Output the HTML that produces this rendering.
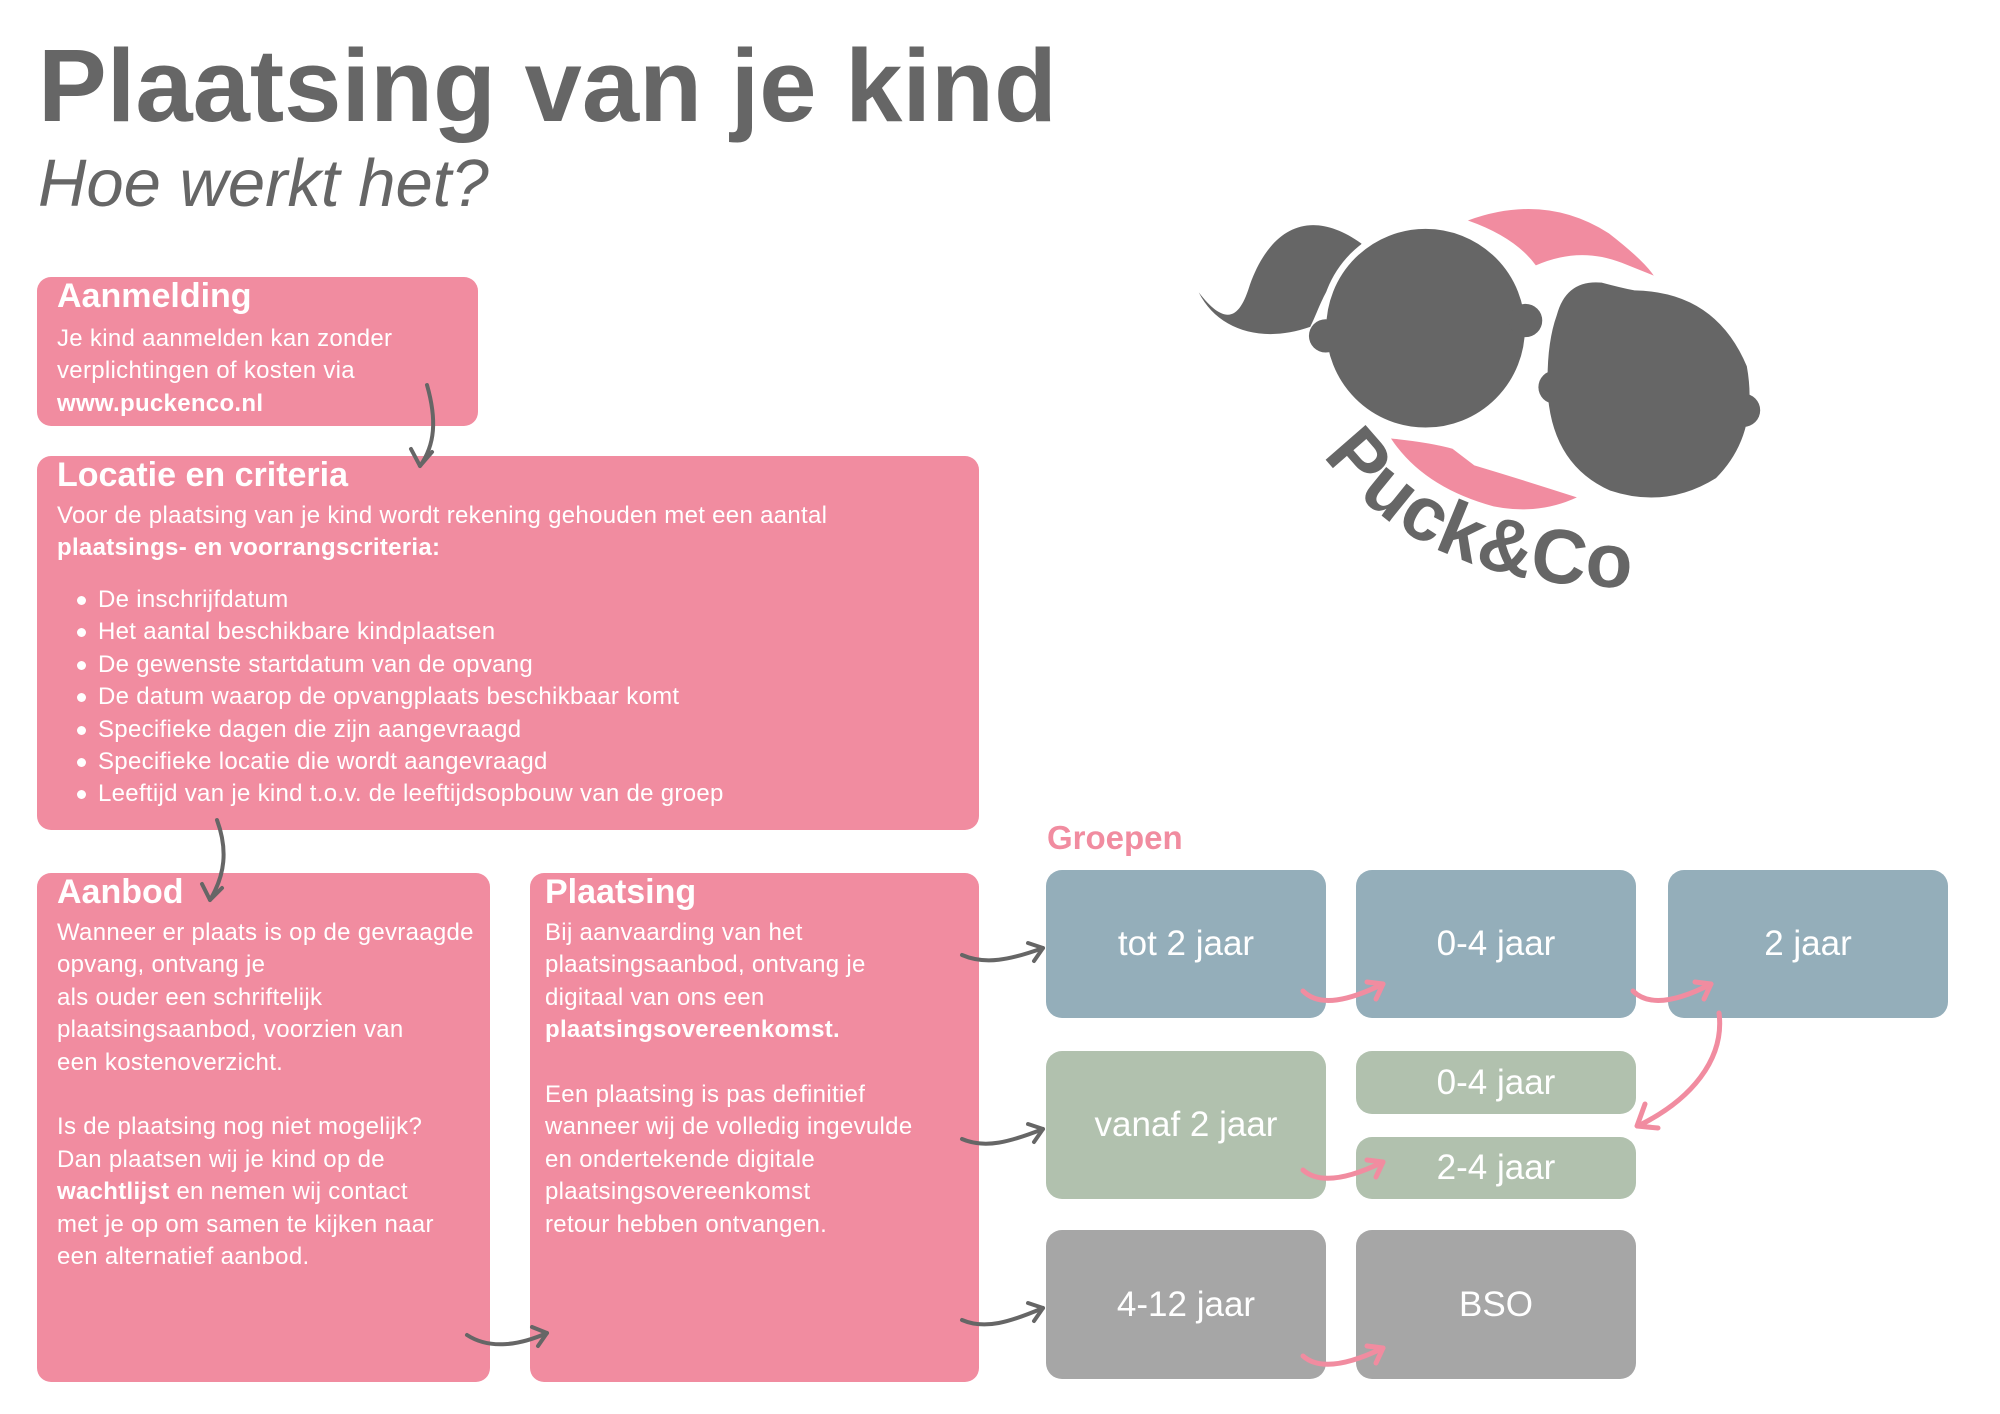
<!DOCTYPE html>
<html><head><meta charset="utf-8"><style>
*{margin:0;padding:0;box-sizing:border-box}
body{width:2000px;height:1414px;background:#fff;position:relative;overflow:hidden;font-family:"Liberation Sans",sans-serif;color:#fff}
.a{position:absolute}
.box{position:absolute;background:#f18ca0;border-radius:14px}
.h{position:absolute;font-weight:bold;font-size:34px;line-height:40px;color:#fff}
.t{position:absolute;font-size:24px;line-height:32.4px;color:#fff;letter-spacing:0.3px;white-space:nowrap}
.g{position:absolute;border-radius:16px;display:flex;align-items:center;justify-content:center;font-size:35px;color:#fff}
.bl{background:#94aeba}.gr{background:#b1c1ae}.gy{background:#a6a6a6}
ul{list-style:none}
li{position:relative;padding-left:0}
li:before{content:"";position:absolute;left:-21px;top:12px;width:9px;height:9px;border-radius:50%;background:#fff}
</style></head><body>
<div class="a" style="left:38px;top:26px;font-size:103px;font-weight:bold;color:#666;line-height:120px;white-space:nowrap">Plaatsing van je kind</div>
<div class="a" style="left:38px;top:144px;font-size:67px;font-style:italic;color:#666;line-height:80px;white-space:nowrap">Hoe werkt het?</div>

<div class="box" style="left:37px;top:277px;width:441px;height:149px"></div>
<div class="h" style="left:57px;top:276px">Aanmelding</div>
<div class="t" style="left:57px;top:323px">Je kind aanmelden kan zonder<br>verplichtingen of kosten via<br><b>www.puckenco.nl</b></div>

<div class="box" style="left:37px;top:456px;width:942px;height:374px"></div>
<div class="h" style="left:57px;top:455px">Locatie en criteria</div>
<div class="t" style="left:57px;top:500px">Voor de plaatsing van je kind wordt rekening gehouden met een aantal<br><b>plaatsings- en voorrangscriteria:</b></div>
<ul class="t" style="left:98px;top:584px">
<li>De inschrijfdatum</li>
<li>Het aantal beschikbare kindplaatsen</li>
<li>De gewenste startdatum van de opvang</li>
<li>De datum waarop de opvangplaats beschikbaar komt</li>
<li>Specifieke dagen die zijn aangevraagd</li>
<li>Specifieke locatie die wordt aangevraagd</li>
<li>Leeftijd van je kind t.o.v. de leeftijdsopbouw van de groep</li>
</ul>

<div class="box" style="left:37px;top:873px;width:453px;height:509px"></div>
<div class="h" style="left:57px;top:872px">Aanbod</div>
<div class="t" style="left:57px;top:917px">Wanneer er plaats is op de gevraagde<br>opvang, ontvang je<br>als ouder een schriftelijk<br>plaatsingsaanbod, voorzien van<br>een kostenoverzicht.<br><br>Is de plaatsing nog niet mogelijk?<br>Dan plaatsen wij je kind op de<br><b>wachtlijst</b> en nemen wij contact<br>met je op om samen te kijken naar<br>een alternatief aanbod.</div>

<div class="box" style="left:530px;top:873px;width:449px;height:509px"></div>
<div class="h" style="left:545px;top:872px">Plaatsing</div>
<div class="t" style="left:545px;top:917px">Bij aanvaarding van het<br>plaatsingsaanbod, ontvang je<br>digitaal van ons een<br><b>plaatsingsovereenkomst.</b><br><br>Een plaatsing is pas definitief<br>wanneer wij de volledig ingevulde<br>en ondertekende digitale<br>plaatsingsovereenkomst<br>retour hebben ontvangen.</div>

<div class="a" style="left:1047px;top:818px;font-size:33px;font-weight:bold;color:#f18ca0;line-height:40px">Groepen</div>
<div class="g bl" style="left:1046px;top:870px;width:280px;height:148px">tot 2 jaar</div>
<div class="g bl" style="left:1356px;top:870px;width:280px;height:148px">0-4 jaar</div>
<div class="g bl" style="left:1668px;top:870px;width:280px;height:148px">2 jaar</div>
<div class="g gr" style="left:1046px;top:1051px;width:280px;height:148px">vanaf 2 jaar</div>
<div class="g gr" style="left:1356px;top:1051px;width:280px;height:63px">0-4 jaar</div>
<div class="g gr" style="left:1356px;top:1137px;width:280px;height:62px">2-4 jaar</div>
<div class="g gy" style="left:1046px;top:1230px;width:280px;height:149px">4-12 jaar</div>
<div class="g gy" style="left:1356px;top:1230px;width:280px;height:149px">BSO</div>

<svg class="a" style="left:0;top:0" width="2000" height="1414" viewBox="0 0 2000 1414">
<g fill="none" stroke="#666" stroke-width="4" stroke-linecap="round" stroke-linejoin="round">
<path d="M427,385 C437,420 435,445 420,466"/><path d="M411,449 L420,466 L432,452"/>
<path d="M217,820 C228,850 225,875 210,900"/><path d="M202,884 L210,900 L222,888"/>
<path d="M467,1335 C490,1350 520,1345 547,1333"/><path d="M532,1327 L547,1333 L538,1346"/>
<path d="M962,955 C985,965 1010,960 1043,948"/><path d="M1028,943 L1043,948 L1034,961"/>
<path d="M962,1139 C985,1149 1010,1142 1043,1129"/><path d="M1028,1124 L1043,1129 L1034,1142"/>
<path d="M962,1320 C985,1330 1010,1322 1043,1308"/><path d="M1028,1303 L1043,1308 L1034,1321"/>
</g>
<g fill="none" stroke="#f18ca0" stroke-width="5" stroke-linecap="round" stroke-linejoin="round">
<path d="M1303,991 C1320,1008 1350,1000 1383,984"/><path d="M1367,982 L1383,984 L1376,999"/>
<path d="M1633,991 C1650,1008 1680,1000 1711,984"/><path d="M1695,982 L1711,984 L1704,999"/>
<path d="M1719,1013 C1725,1060 1690,1100 1640,1125"/><path d="M1645,1104 L1637,1126 L1658,1128"/>
<path d="M1303,1170 C1320,1185 1350,1178 1383,1162"/><path d="M1367,1160 L1383,1162 L1376,1177"/>
<path d="M1303,1356 C1320,1371 1350,1364 1383,1348"/><path d="M1367,1346 L1383,1348 L1376,1363"/>
</g>
<g transform="scale(1.282)">
<path d="M1145,172 Q1205,150 1255,182 Q1282,203 1290,215 L1265,205 Q1232,192 1198,207 Q1182,185 1145,172 Z" fill="#f18ca0"/>
<path d="M1085,342 Q1115,345 1133,350 L1150,363 Q1190,375 1230,388 Q1200,402 1165,395 Q1110,380 1085,342 Z" fill="#f18ca0"/>
<path d="M1062,190 C1020,160 990,180 975,222 C968,245 958,258 935,228 C950,258 985,268 1022,255 C1030,240 1035,215 1058,205 Z" fill="#666"/>
<circle cx="1112" cy="256" r="80" fill="#666" stroke="#fff" stroke-width="5"/>
<circle cx="1034" cy="262" r="13" fill="#666"/><circle cx="1190" cy="250" r="13" fill="#666"/>
<path d="M1212,245 Q1220,215 1250,218 Q1265,222 1275,224 Q1340,225 1365,285 Q1375,340 1340,375 Q1300,400 1255,385 Q1210,365 1205,310 Q1203,270 1212,245 Z" fill="#666" stroke="#fff" stroke-width="5"/>
<circle cx="1213" cy="302" r="13" fill="#666"/><circle cx="1360" cy="320" r="13" fill="#666"/>
<path id="arc" d="M1032,355 Q1110,462 1285,458" fill="none"/>
<text font-family="Liberation Sans, sans-serif" font-size="60" font-weight="bold" fill="#666" letter-spacing="1"><textPath href="#arc">Puck&amp;Co</textPath></text>
</g>
</svg>
</body></html>
